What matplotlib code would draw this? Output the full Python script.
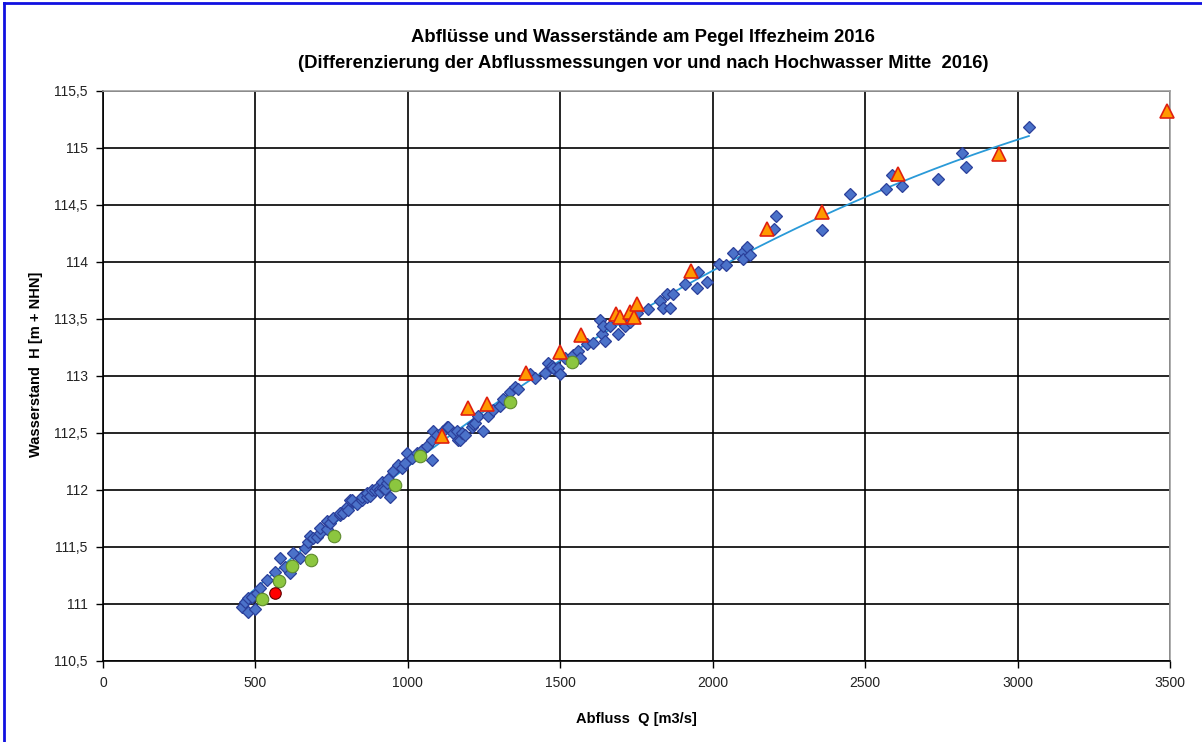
import numpy as np
import matplotlib
matplotlib.use('Agg')
import matplotlib.pyplot as plt
import matplotlib.ticker as mticker
from matplotlib.lines import Line2D

plt.rcParams['font.family'] = ['Liberation Sans', 'DejaVu Sans']

# Abflussmessungen (blaue Rauten)
q_mess = [456, 466, 476, 476, 489, 499, 505, 515, 538, 564, 581, 597, 613, 623, 646,
          663, 672, 679, 689, 702, 712, 712, 735, 735, 745, 754, 777, 777, 787, 800,
          804, 810, 817, 833, 850, 850, 866, 866, 876, 882, 892, 899, 909, 909, 915,
          918, 925, 932, 935, 941, 951, 968, 981, 991, 997, 1014, 1030, 1046, 1063,
          1079, 1079, 1082, 1096, 1115, 1128, 1132, 1148, 1161, 1164, 1171, 1178,
          1187, 1210, 1214, 1220, 1230, 1246, 1263, 1279, 1302, 1312, 1335, 1351,
          1361, 1401, 1417, 1450, 1460, 1473, 1476, 1492, 1499, 1515, 1542, 1558,
          1565, 1588, 1607, 1630, 1637, 1640, 1647, 1663, 1689, 1702, 1712, 1729,
          1752, 1788, 1827, 1837, 1850, 1860, 1870, 1909, 1948, 1952, 1981, 2020,
          2043, 2066, 2099, 2099, 2112, 2122, 2201, 2207, 2358, 2450, 2568, 2588,
          2621, 2739, 2818, 2831, 3037]
h_mess = [110.97, 111.02, 110.93, 111.05, 111.06, 110.96, 111.10, 111.14, 111.21,
          111.28, 111.40, 111.32, 111.27, 111.45, 111.40, 111.49, 111.54, 111.60,
          111.58, 111.59, 111.62, 111.67, 111.66, 111.73, 111.71, 111.75, 111.78,
          111.80, 111.80, 111.85, 111.82, 111.91, 111.91, 111.88, 111.91, 111.94,
          111.94, 111.97, 111.95, 112.00, 112.00, 112.02, 112.01, 111.98, 112.07,
          112.02, 112.01, 112.06, 112.10, 111.94, 112.17, 112.22, 112.19, 112.24,
          112.32, 112.28, 112.32, 112.35, 112.39, 112.26, 112.44, 112.52, 112.48,
          112.52, 112.55, 112.55, 112.50, 112.52, 112.44, 112.44, 112.50, 112.48,
          112.55, 112.58, 112.59, 112.65, 112.52, 112.65, 112.70, 112.74, 112.80,
          112.86, 112.90, 112.89, 113.02, 112.98, 113.03, 113.11, 113.09, 113.07,
          113.07, 113.02, 113.16, 113.18, 113.22, 113.16, 113.28, 113.29, 113.49,
          113.37, 113.44, 113.31, 113.44, 113.37, 113.47, 113.44, 113.47, 113.55,
          113.59, 113.66, 113.60, 113.72, 113.60, 113.72, 113.81, 113.77, 113.91,
          113.82, 113.98, 113.97, 114.08, 114.09, 114.03, 114.13, 114.06, 114.29,
          114.40, 114.28, 114.60, 114.64, 114.76, 114.67, 114.73, 114.96, 114.83,
          115.18]

# nach Hochwasser (orange Dreiecke)
q_nach = [1112, 1197, 1260, 1387, 1499, 1568, 1683, 1696, 1729, 1742, 1752, 1929,
          2178, 2358, 2608, 2939, 3490]
h_nach = [112.47, 112.72, 112.75, 113.03, 113.21, 113.36, 113.54, 113.52, 113.56,
          113.52, 113.63, 113.92, 114.29, 114.44, 114.77, 114.95, 115.32]

# vor Hochwasser (gruene Kreise)
q_vor = [521, 577, 620, 682, 758, 958, 1040, 1335, 1538]
h_vor = [111.04, 111.20, 111.33, 111.39, 111.60, 112.04, 112.30, 112.77, 113.12]

# Einzelmessung (rot)
q_rot = [564]
h_rot = [111.10]

fig = plt.figure(figsize=(12.02, 7.42), dpi=100)
ax = fig.add_axes([0.0857, 0.1092, 0.8877, 0.7682])

# Trendlinie (Polynom 2. Ordnung ueber die Messungen)
coef = np.polyfit(q_mess, h_mess, 2)
q_fit = np.linspace(min(q_mess), max(q_mess), 200)
ax.plot(q_fit, np.polyval(coef, q_fit), color='#2A9AD8', lw=1.3, zorder=3)

ax.plot(q_mess, h_mess, 'D', ms=6.2, mfc='#4B72C9', mec='#2B3F9A', mew=0.9,
        ls='none', zorder=4)
ax.plot(q_vor, h_vor, 'o', ms=9, mfc='#8CC63F', mec='#5E8A2E', mew=0.8,
        ls='none', zorder=5)
ax.plot(q_rot, h_rot, 'o', ms=8.3, mfc='#FF0000', mec='#600000', mew=0.8,
        ls='none', zorder=5)
ax.plot(q_nach, h_nach, '^', ms=10.5, mfc='#FF9900', mec='#E02010', mew=1.2,
        ls='none', zorder=6, clip_on=False)

ax.set_xlim(0, 3500)
ax.set_ylim(110.5, 115.5)
ax.set_xticks(np.arange(0, 3501, 500))
ax.set_yticks(np.arange(110.5, 115.51, 0.5))
ax.yaxis.set_major_formatter(mticker.FuncFormatter(
    lambda v, p: ('%g' % v).replace('.', ',')))
ax.grid(True, color='black', lw=1.2)
ax.set_axisbelow(True)
ax.tick_params(direction='out', length=5, width=1, labelsize=10, pad=6,
               labelcolor='#222222')
for s in ['top', 'right']:
    ax.spines[s].set_color('#A0A0A0')
    ax.spines[s].set_linewidth(1.2)
for s in ['left', 'bottom']:
    ax.spines[s].set_color('black')
    ax.spines[s].set_linewidth(1.2)

ax.set_xlabel('Abfluss  Q [m3/s]', fontsize=10.5, fontweight='bold', labelpad=16)
ax.set_ylabel('Wasserstand  H [m + NHN]', fontsize=10.5, fontweight='bold')
ax.yaxis.set_label_coords(-0.056, 0.52)
fig.text(0.535, 0.932, 'Abflüsse und Wasserstände am Pegel Iffezheim 2016\n'
         '(Differenzierung der Abflussmessungen vor und nach Hochwasser Mitte  2016)',
         ha='center', va='center', fontsize=13.3, fontweight='bold',
         linespacing=1.75)

# blauer Rahmen
fig.add_artist(Line2D([0.003, 1.0], [0.996, 0.996], color='#1010E0', lw=2))
fig.add_artist(Line2D([0.0035, 0.0035], [0.0, 0.996], color='#1010E0', lw=2))

fig.savefig('out.png', dpi=100)
